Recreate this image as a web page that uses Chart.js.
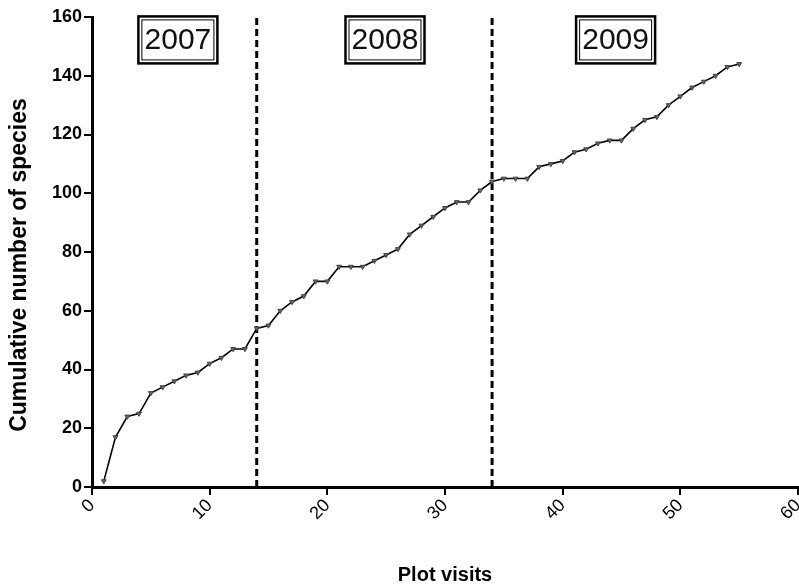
<!DOCTYPE html>
<html lang="en">
<head>
    <meta charset="UTF-8">
    <title>Cumulative species</title>
    <script src="https://cdn.jsdelivr.net/npm/chart.js@4.4.1/dist/chart.umd.min.js"></script>
    <style>
        html, body { margin: 0; padding: 0; background: #fff; overflow: hidden; }
        #wrap { width: 799px; height: 587px; overflow: hidden; }
    </style>
</head>
<body>
<!-- canvas slightly wider than the window so the axis runs out to the edge like the original -->
<div id="wrap"><canvas id="speciesChart" width="803" height="587"></canvas></div>
<script>
    // plot visits and cumulative species count
    var visits  = [1, 2, 3, 4, 5, 6, 7, 8, 9, 10, 11, 12, 13, 14, 15, 16, 17, 18, 19, 20,
                   21, 22, 23, 24, 25, 26, 27, 28, 29, 30, 31, 32, 33, 34, 35, 36, 37, 38, 39, 40,
                   41, 42, 43, 44, 45, 46, 47, 48, 49, 50, 51, 52, 53, 54, 55];
    var species = [2, 17, 24, 25, 32, 34, 36, 38, 39, 42, 44, 47, 47, 54, 55, 60, 63, 65, 70, 70,
                   75, 75, 75, 77, 79, 81, 86, 89, 92, 95, 97, 97, 101, 104, 105, 105, 105, 109, 110, 111,
                   114, 115, 117, 118, 118, 122, 125, 126, 130, 133, 136, 138, 140, 143, 144];
    // year boundaries (visit number) and year labels
    var yearBreaks = [14, 34];
    var yearLabels = ["2007", "2008", "2009"];
    var xTicks = [0, 10, 20, 30, 40, 50, 60];
    var yTicks = [0, 20, 40, 60, 80, 100, 120, 140, 160];

    var FONT = "'Liberation Sans', Arial, Helvetica, sans-serif";

    var points = visits.map(function(v, i){ return {x: v, y: species[i]}; });
    var breakSets = yearBreaks.map(function(b){
        return {
            data: [{x: b, y: yTicks[0]}, {x: b, y: yTicks[yTicks.length - 1]}],
            borderColor: "#000",
            borderWidth: 3,
            borderDash: [7, 4],
            pointRadius: 0,
            fill: false
        };
    });

    // boxed year labels + the y axis title (drawn by hand to sit like the original)
    var yearBoxes = {
        id: "yearBoxes",
        afterDatasetsDraw: function(chart){
            var ctx = chart.ctx;
            var xs = chart.scales.x, ys = chart.scales.y;
            var centres = [7.3, 24.9, 44.5];
            ctx.save();
            ctx.font = "30px " + FONT;
            ctx.textAlign = "center";
            ctx.textBaseline = "middle";
            yearLabels.forEach(function(lbl, i){
                var cx = xs.getPixelForValue(centres[i]);
                var cy = ys.getPixelForValue(152.2);
                var w = 79, h = 47;
                ctx.fillStyle = "#fff";
                ctx.fillRect(cx - w/2, cy - h/2, w, h);
                ctx.strokeStyle = "#000";
                ctx.lineWidth = 2.5;
                ctx.strokeRect(cx - w/2, cy - h/2, w, h);
                ctx.lineWidth = 1;
                ctx.strokeRect(cx - w/2 + 3.5, cy - h/2 + 3.5, w - 7, h - 7);
                ctx.fillStyle = "#111";
                ctx.fillText(lbl, cx, cy + 1);
            });
            // y axis title
            ctx.translate(20, 265);
            ctx.rotate(-Math.PI / 2);
            ctx.font = "bold 23px " + FONT;
            ctx.fillStyle = "#000";
            ctx.fillText("Cumulative number of species", 0, 0);
            ctx.restore();
        }
    };

    var chart = new Chart("speciesChart", {
        type: "line",
        data: {
            datasets: [{
                data: points,
                borderColor: "#000",
                borderWidth: 1.6,
                pointStyle: "triangle",
                rotation: 180,
                pointRadius: 2.8,
                pointBackgroundColor: "#666",
                pointBorderColor: "#444",
                pointBorderWidth: 1,
                tension: 0,
                fill: false
            }].concat(breakSets)
        },
        options: {
            responsive: false,
            animation: false,
            layout: { padding: { top: 17, right: 0, bottom: 0, left: 0 } },
            plugins: {
                legend: { display: false },
                tooltip: { enabled: false }
            },
            scales: {
                x: {
                    type: "linear",
                    min: xTicks[0],
                    max: xTicks[xTicks.length - 1],
                    afterBuildTicks: function(scale){
                        scale.ticks = xTicks.map(function(v){ return {value: v}; });
                    },
                    afterFit: function(scale){
                        scale.height = 100;
                        scale.paddingLeft = 0;
                        scale.paddingRight = 0;
                    },
                    grid: {
                        drawOnChartArea: false,
                        color: "#000",
                        lineWidth: 2,
                        tickLength: 8
                    },
                    border: { display: true, color: "#000", width: 3 },
                    ticks: {
                        color: "#000",
                        font: { family: FONT, size: 18 },
                        minRotation: 45,
                        maxRotation: 45,
                        padding: 0
                    },
                    title: {
                        display: true,
                        text: "Plot visits",
                        color: "#000",
                        font: { family: FONT, size: 20, weight: "bold" },
                        padding: { top: 0, bottom: 0 }
                    }
                },
                y: {
                    min: yTicks[0],
                    max: yTicks[yTicks.length - 1],
                    afterBuildTicks: function(scale){
                        scale.ticks = yTicks.map(function(v){ return {value: v}; });
                    },
                    afterFit: function(scale){
                        scale.width = 92;
                        scale.paddingTop = 0;
                        scale.paddingBottom = 0;
                    },
                    grid: {
                        drawOnChartArea: false,
                        color: "#000",
                        lineWidth: 2,
                        tickLength: 8
                    },
                    border: { display: true, color: "#000", width: 3 },
                    ticks: {
                        color: "#000",
                        font: { family: FONT, size: 18, weight: "bold" },
                        padding: 2
                    }
                }
            }
        },
        plugins: [yearBoxes]
    });
</script>
</body>
</html>
